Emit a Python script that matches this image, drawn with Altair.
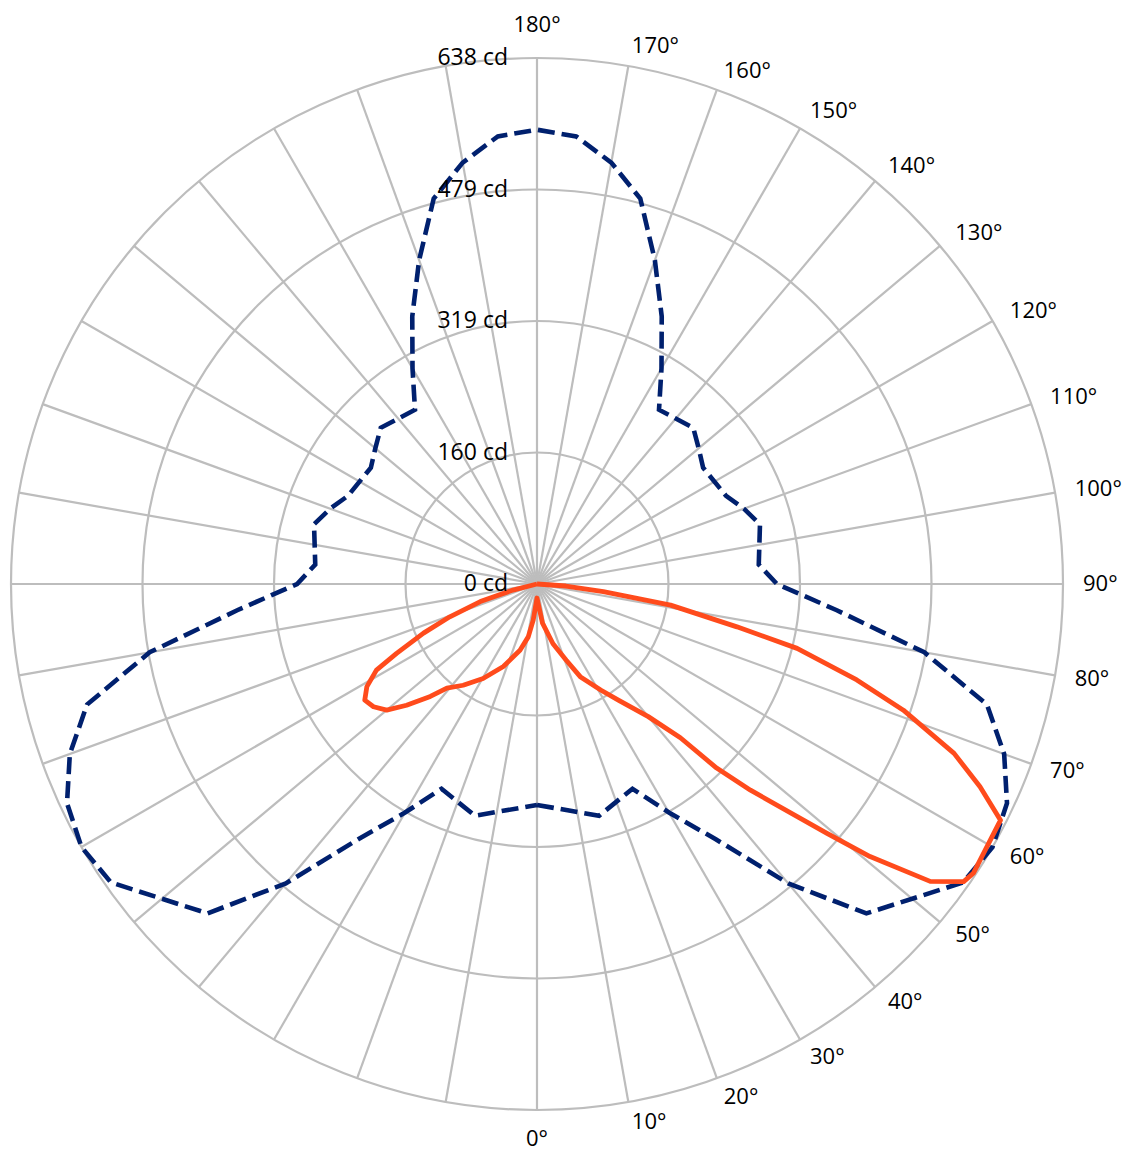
import math
import altair as alt
import pandas as pd

# ---------------- data ----------------
MAX_CD = 638
RING_VALUES = [159.5, 319, 478.5, 638]
RING_LABEL_VALUES = [0, 159.5, 319, 478.5, 638]
RING_LABELS = ["0 cd", "160 cd", "319 cd", "479 cd", "638 cd"]
SPOKE_ANGLES = list(range(0, 360, 10))
SIDE_TICKS = list(range(10, 180, 10))

# C0-C180 plane (dashed, symmetric)
NAVY_GAMMA = [0, 15, 25, 30, 35, 40, 45, 55, 60, 65, 70, 75, 80, 85, 90, 95, 105,
              110, 115, 125, 130, 135, 145, 150, 155, 160, 165, 170, 175, 180]
NAVY_CD = [268, 291, 274, 320, 378, 474, 565, 631, 638, 629, 603, 565, 477, 365, 291,
           270, 280, 267, 253, 246, 256, 268, 258, 302, 358, 418, 484, 519, 545, 551]

# C90 plane (solid, right)
ORANGE_C90_GAMMA = [0, 8, 15, 21, 25, 31, 35, 40, 43, 44.3, 46, 49.3, 50.7, 52.9, 55.1,
                    56.5, 63, 65.4, 67.9, 71, 73.3, 76.1, 77.9, 81, 83.4, 86, 90]
ORANGE_C90_CD = [17, 48, 75, 99, 124, 150, 172, 210, 255, 312, 360, 464, 522, 598, 631,
                 635, 631, 591, 546, 470, 405, 325, 248, 164, 81, 35, 0]

# C270 plane (solid, left)
ORANGE_C270_GAMMA = [0, 6, 9.4, 14.4, 22.2, 29.7, 36.1, 40.9, 43.5, 47.1, 50, 53.1, 56,
                     58.9, 61.8, 63.7, 66.6, 69.4, 72.8, 75.8, 90]
ORANGE_C270_CD = [17, 44, 65, 83, 108, 132, 152, 167, 188, 216, 238, 248, 252,
                  241, 221, 190, 150, 113, 72, 30, 0]

# ---------------- style ----------------
GRID = "#bdbdbd"
NAVY = "#00206e"
ORANGE = "#ff4b1c"
FONT = "Open Sans"
FS = 23
FS_ANGLE = 22
W = 1052  # plot diameter in px
R_PX = W / 2


def polar_rows(gammas, values, side, start):
    rows = []
    for i, (g, v) in enumerate(zip(gammas, values)):
        a = math.radians(g)
        rows.append({"order": start + i, "x": side * v * math.sin(a), "y": -v * math.cos(a)})
    return rows


navy_rows = polar_rows(NAVY_GAMMA, NAVY_CD, 1, 0)
navy_rows += polar_rows(NAVY_GAMMA[::-1], NAVY_CD[::-1], -1, len(navy_rows))
navy_df = pd.DataFrame(navy_rows)

orange_rows = polar_rows(ORANGE_C270_GAMMA[::-1], ORANGE_C270_CD[::-1], -1, 0)
orange_rows += polar_rows(ORANGE_C90_GAMMA, ORANGE_C90_CD, 1, len(orange_rows))
orange_df = pd.DataFrame(orange_rows)

xs = alt.Scale(domain=[-MAX_CD, MAX_CD], nice=False, zero=False)
ys = alt.Scale(domain=[-MAX_CD, MAX_CD], nice=False, zero=False)

rings = alt.Chart(pd.DataFrame({"v": RING_VALUES})).transform_calculate(
    px=f"datum.v / {MAX_CD} * {R_PX}"
).mark_arc(
    theta=0, theta2=2 * math.pi, fillOpacity=0, stroke=GRID, strokeWidth=2.2
).encode(
    radius=alt.Radius("px:Q", scale=None, stack=None)
)

spokes = alt.Chart(pd.DataFrame({"a": SPOKE_ANGLES})).transform_calculate(
    x0="0", y0="0",
    x1=f"{MAX_CD} * sin(datum.a * PI / 180)",
    y1=f"-{MAX_CD} * cos(datum.a * PI / 180)",
).mark_rule(color=GRID, strokeWidth=2.2).encode(
    x=alt.X("x0:Q", scale=xs, axis=None),
    y=alt.Y("y0:Q", scale=ys, axis=None),
    x2="x1:Q",
    y2="y1:Q",
)

navy = alt.Chart(navy_df).mark_line(
    color=NAVY, strokeWidth=4.6, strokeDash=[17, 7], strokeJoin="miter"
).encode(
    x=alt.X("x:Q", scale=xs, axis=None),
    y=alt.Y("y:Q", scale=ys, axis=None),
    order="order:Q",
)

orange = alt.Chart(orange_df).mark_line(
    color=ORANGE, strokeWidth=4.8, strokeJoin="round"
).encode(
    x=alt.X("x:Q", scale=xs, axis=None),
    y=alt.Y("y:Q", scale=ys, axis=None),
    order="order:Q",
)

ring_labels = alt.Chart(
    pd.DataFrame({"v": RING_LABEL_VALUES, "label": RING_LABELS, "x": [0] * len(RING_LABELS)})
).mark_text(align="right", baseline="middle", dx=-29, font=FONT, fontSize=FS, color="#000000").encode(
    x=alt.X("x:Q", scale=xs, axis=None),
    y=alt.Y("v:Q", scale=ys, axis=None),
    text="label:N",
)

LABEL_R = MAX_CD * 546 / 526
END_R = MAX_CD * 548 / 526
side_labels = alt.Chart(pd.DataFrame({"a": SIDE_TICKS})).transform_calculate(
    lx=f"{LABEL_R} * sin(datum.a * PI / 180)",
    ly=f"-{LABEL_R} * cos(datum.a * PI / 180)",
    label="datum.a + '°'",
).mark_text(align="left", baseline="middle", font=FONT, fontSize=FS_ANGLE, color="#000000").encode(
    x=alt.X("lx:Q", scale=xs, axis=None),
    y=alt.Y("ly:Q", scale=ys, axis=None),
    text="label:N",
)

bottom_label = alt.Chart(pd.DataFrame({"a": [0]})).transform_calculate(
    lx="0", ly=f"-{END_R}", label="datum.a + '°'"
).mark_text(align="center", baseline="top", dy=-3, font=FONT, fontSize=FS_ANGLE, color="#000000").encode(
    x=alt.X("lx:Q", scale=xs, axis=None),
    y=alt.Y("ly:Q", scale=ys, axis=None),
    text="label:N",
)

top_label = alt.Chart(pd.DataFrame({"a": [180]})).transform_calculate(
    lx="0", ly=f"{END_R}", label="datum.a + '°'"
).mark_text(align="center", baseline="bottom", dy=1, font=FONT, fontSize=FS_ANGLE, color="#000000").encode(
    x=alt.X("lx:Q", scale=xs, axis=None),
    y=alt.Y("ly:Q", scale=ys, axis=None),
    text="label:N",
)

chart = alt.layer(
    rings, spokes, navy, orange, ring_labels, side_labels, bottom_label, top_label
).properties(
    width=W,
    height=W,
    autosize=alt.AutoSizeParams(type="none"),
    padding={"left": 3, "top": 50, "right": 60, "bottom": 42},
    background="white",
).configure_view(stroke=None)

chart.save("out.html", embed_options={"renderer": "svg", "actions": False})
